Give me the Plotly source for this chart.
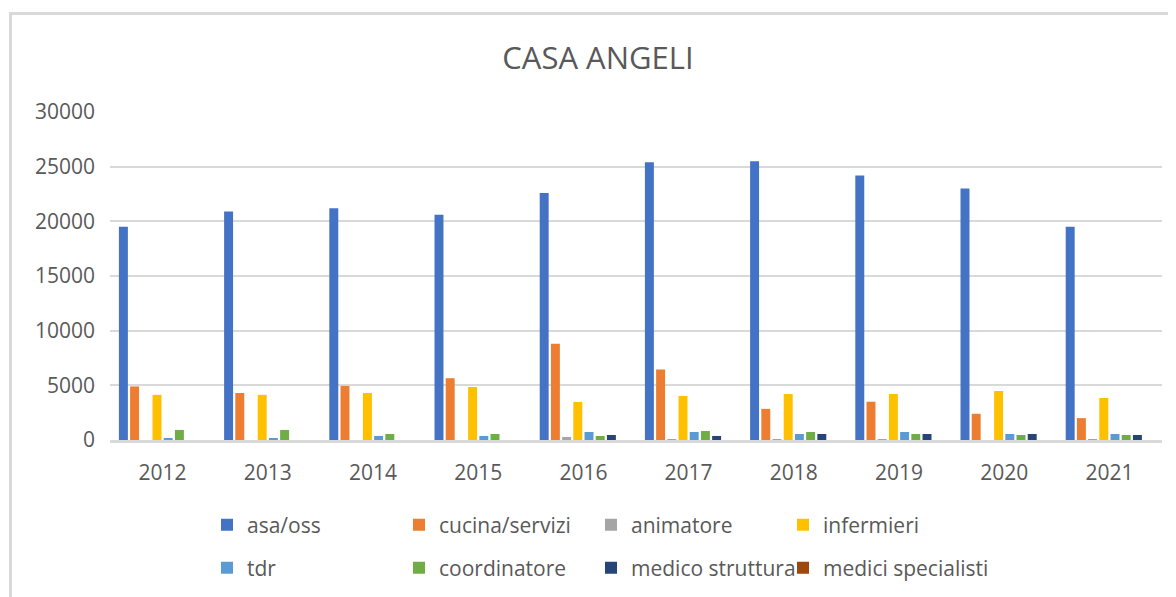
import plotly.graph_objects as go

years = ["2012", "2013", "2014", "2015", "2016", "2017", "2018", "2019", "2020", "2021"]
asa_oss = [19500, 20900, 21200, 20600, 22600, 25400, 25500, 24200, 23000, 19500]
cucina_servizi = [4900, 4300, 4950, 5650, 8800, 6450, 2850, 3500, 2400, 2000]
animatore = [0, 0, 0, 0, 275, 90, 90, 90, 0, 90]
infermieri = [4130, 4130, 4300, 4850, 3480, 4030, 4210, 4210, 4480, 3840]
tdr = [100, 100, 370, 370, 730, 730, 550, 730, 550, 550]
coordinatore = [920, 920, 550, 550, 370, 820, 730, 550, 460, 460]
medico_struttura = [0, 0, 0, 0, 460, 370, 550, 550, 550, 460]
medici_specialisti = [0, 0, 0, 0, 0, 0, 0, 0, 0, 0]

series = [
    ("asa/oss", asa_oss, "#4472C4", "legend"),
    ("cucina/servizi", cucina_servizi, "#ED7D31", "legend"),
    ("animatore", animatore, "#A5A5A5", "legend"),
    ("infermieri", infermieri, "#FFC000", "legend"),
    ("tdr", tdr, "#5B9BD5", "legend2"),
    ("coordinatore", coordinatore, "#70AD47", "legend2"),
    ("medico struttura", medico_struttura, "#264478", "legend3"),
    ("medici specialisti", medici_specialisti, "#9E480E", "legend4"),
]

fig = go.Figure()
for name, vals, color, leg in series:
    fig.add_trace(go.Bar(x=years, y=vals, name=name, marker=dict(color=color, line=dict(width=0)),
                         legend=leg))

# page body has an 8px margin: work in screen pixels and convert
OFF = 8
W, H = 1176 - OFF, 597 - OFF
L = 110 - OFF
T = 112 - OFF
R = W - (1162 - OFF)
B = H - (440 - OFF)
pw = W - L - R
ph = H - T - B

def px_x(p):
    return (p - OFF - L) / pw

def px_y(p):
    return (H - B - (p - OFF)) / ph

FONT = "Open Sans"
GRAY = "#595959"

def legend_style(entrywidth):
    return dict(orientation="h", xanchor="left", yanchor="middle",
                font=dict(family=FONT, size=21, color=GRAY),
                entrywidth=entrywidth, entrywidthmode="pixels",
                bgcolor="rgba(0,0,0,0)", traceorder="normal")

COL0 = 207
COLW = 192

fig.update_layout(
    width=W, height=H,
    margin=dict(l=L, r=R, t=T, b=B, autoexpand=False),
    paper_bgcolor="white", plot_bgcolor="white",
    barmode="group", bargap=0.148, bargroupgap=0.2,
    title=dict(text="CASA ANGELI", x=px_x(598), xref="paper", xanchor="center",
               y=1 - (58 - OFF) / H, yanchor="middle",
               font=dict(family=FONT, size=31, color=GRAY)),
    font=dict(family=FONT, color=GRAY),
    legend=dict(x=px_x(COL0), y=px_y(525), **legend_style(147)),
    legend2=dict(x=px_x(COL0), y=px_y(568), **legend_style(147)),
    legend3=dict(x=px_x(COL0 + 2 * COLW), y=px_y(568), **legend_style(200)),
    legend4=dict(x=px_x(COL0 + 3 * COLW), y=px_y(568), **legend_style(200)),
    xaxis=dict(showgrid=False, showline=True, linecolor="#D9D9D9", linewidth=3,
               ticks="", tickfont=dict(family=FONT, size=21, color=GRAY),
               ticklabelstandoff=12, fixedrange=True),
    yaxis=dict(range=[0, 30000], dtick=5000, tickformat="d", showgrid=True,
               gridcolor="#D9D9D9", gridwidth=2,
               zeroline=False, showline=False, ticks="",
               tickfont=dict(family=FONT, size=21, color=GRAY),
               ticklabelstandoff=14, fixedrange=True),
    shapes=[dict(type="rect", xref="paper", yref="paper",
                 x0=px_x(10.5), x1=px_x(1200), y0=px_y(620), y1=px_y(13.5),
                 line=dict(color="#D9D9D9", width=3), fillcolor="rgba(0,0,0,0)", layer="below")],
)

fig.write_html("out.html")
